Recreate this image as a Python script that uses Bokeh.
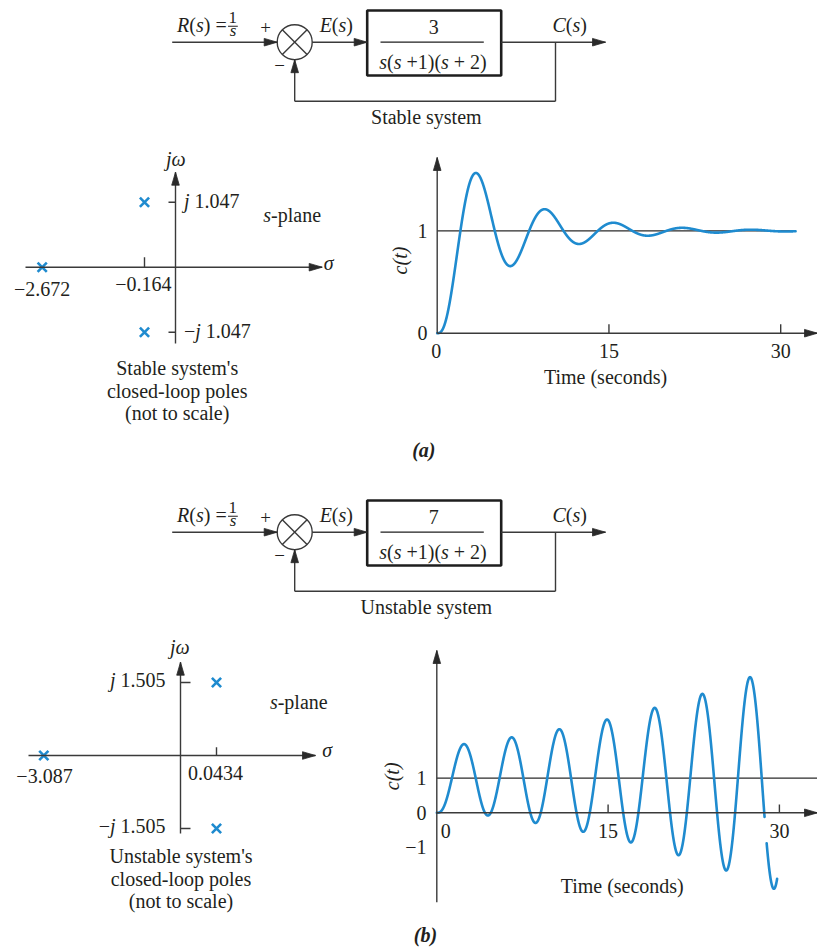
import numpy as np
from bokeh.plotting import figure
from bokeh.models import Range1d
from bokeh.core.properties import value
from bokeh.embed import file_html
from bokeh.resources import INLINE

# ------------------------------------------------------------------ data
GAINS = [3, 7]                       # forward-path gain K of panel (a) and (b)
OPEN_LOOP_DEN = [1, 3, 2, 0]         # s(s+1)(s+2) = s^3 + 3s^2 + 2s
DEN_TEXT = [("s", "i"), ("(", "r"), ("s", "i"), (" +1)(", "r"), ("s", "i"), (" + 2)", "r")]
POLES_A_RE = [-2.672, -0.164, -0.164]
POLES_A_IM = [0.0, 1.047, -1.047]
POLES_B_RE = [-3.087, 0.0434, 0.0434]
POLES_B_IM = [0.0, 1.505, -1.505]
T_END = [31.3, 29.8]                 # length of the plotted responses (s)
X_TICKS = [0, 15, 30]
Y_TICKS_A = [0, 1]
Y_TICKS_B = [-1, 0, 1]
SYSTEM_CAPTIONS = ["Stable system", "Unstable system"]
POLE_CAPTIONS = [["Stable system's", "closed-loop poles", "(not to scale)"],
                 ["Unstable system's", "closed-loop poles", "(not to scale)"]]
PANEL_LABELS = ["(a)", "(b)"]

# ------------------------------------------------------------------ styles
TXT = "#231f20"
LN = "#3a3a3a"
BLUE = "#1f8bcf"
FONT = value("Liberation Serif")
FS = 20
W, H = 817, 950
MID = 0.335          # em-middle above the alphabetic baseline

MET = {
    "r": {" ": 250, "(": 333, ")": 333, "+": 564, "=": 564, "\u2212": 564, "-": 333, ".": 250,
          "'": 180, "a": 444, "b": 500, "c": 444, "d": 500, "e": 444, "f": 333, "g": 500,
          "h": 500, "i": 278, "j": 278, "k": 500, "l": 278, "m": 778, "n": 500, "o": 500,
          "p": 500, "r": 333, "s": 389, "t": 278, "u": 500, "v": 500, "w": 722, "y": 500,
          "S": 556, "T": 611, "U": 722},
    "i": {"R": 611, "E": 611, "C": 667, "s": 389, "j": 278, "t": 278, "c": 444,
          "\u03c9": 667, "\u03c3": 500, "(": 333, ")": 333, " ": 250},
    "bi": {"(": 333, ")": 333, "a": 500, "b": 500},
}
STY = {"r": "normal", "i": "italic", "bi": "bold italic"}


def tw(s, st, size):
    return sum(MET[st].get(ch, 500) for ch in s) * size / 1000.0


p = figure(width=W, height=H, x_range=Range1d(0, W), y_range=Range1d(H, 0),
           output_backend="svg", toolbar_location=None, x_axis_type=None, y_axis_type=None,
           min_border=0, outline_line_color=None, title=None,
           background_fill_color="white", border_fill_color="white")


def rich(parts, x, y, align="left", size=FS):
    """parts drawn side by side; y is the alphabetic baseline"""
    total = sum(tw(t, st, size) for t, st in parts)
    cx = {"left": x, "center": x - total / 2.0, "right": x - total}[align]
    for t, st in parts:
        body = t.strip()
        if body:
            lead = t[:len(t) - len(t.lstrip())]
            p.text(x=[cx + tw(lead, st, size)], y=[y - MID * size], text=[body], text_font=FONT,
                   text_font_size=f"{size}px", text_font_style=STY[st], text_align="left",
                   text_baseline="middle", text_color=TXT)
        cx += tw(t, st, size)


def plain(txt, x, y, align="center", size=FS, style="normal", **kw):
    """y is the alphabetic baseline"""
    p.text(x=[x], y=[y - MID * size], text=[txt], text_font=FONT, text_font_size=f"{size}px",
           text_font_style=style, text_align=align, text_baseline="middle",
           text_color=TXT, **kw)


SEG = {"x0": [], "y0": [], "x1": [], "y1": []}
HEADS = {"xs": [], "ys": []}


def seg(x0, y0, x1, y1):
    SEG["x0"].append(x0); SEG["y0"].append(y0); SEG["x1"].append(x1); SEG["y1"].append(y1)


def head(tx, ty, dx, dy, L=13.0, Wd=3.8):
    bx, by = tx - dx * L, ty - dy * L
    px, py = -dy, dx
    HEADS["xs"].append([tx, bx + px * Wd, bx - px * Wd])
    HEADS["ys"].append([ty, by + py * Wd, by - py * Wd])


def fmt_num(v):
    s = str(abs(v))
    return ("\u2212" + s) if v < 0 else s


def step_response(K, den, t_end, dt=0.005):
    a = np.array(den, dtype=float)
    a[-1] += K                                   # closed loop: den + K

    def f(x):
        return np.array([x[1], x[2], (K - a[3] * x[0] - a[2] * x[1] - a[1] * x[2]) / a[0]])

    n = int(round(t_end / dt))
    t = np.arange(n + 1) * dt
    x = np.zeros(3)
    c = np.zeros(n + 1)
    for i in range(n):
        k1 = f(x); k2 = f(x + dt / 2 * k1); k3 = f(x + dt / 2 * k2); k4 = f(x + dt * k3)
        x = x + dt / 6 * (k1 + 2 * k2 + 2 * k3 + k4)
        c[i + 1] = x[0]
    return t, c


# ------------------------------------------------------------------ block diagrams
def block_diagram(dy, gain, caption):
    yl = 41.7 + dy
    cx, r = 294.2, 17.5
    bx0, bx1, by0, by1 = 366.7, 500.7, 10 + dy, 75 + dy
    tap, fb_y, out_x = 555.0, 100.7 + dy, 605.0
    seg(171.7, yl, cx - r, yl)
    seg(cx + r, yl, bx0, yl)
    seg(bx1, yl, out_x, yl)
    seg(tap, yl, tap, fb_y)
    seg(tap, fb_y, cx, fb_y)
    seg(cx, fb_y, cx, yl + r)
    head(cx - r, yl, 1, 0)
    head(bx0, yl, 1, 0)
    head(out_x, yl, 1, 0)
    head(cx, yl + r, 0, -1)
    d = r * np.cos(np.pi / 4)
    seg(cx - d, yl - d, cx + d, yl + d)
    seg(cx - d, yl + d, cx + d, yl - d)
    p.circle(x=[cx], y=[yl], radius=r, fill_color=None, line_color=LN, line_width=1.4)
    p.quad(left=[bx0], right=[bx1], top=[by0], bottom=[by1], fill_color=None,
           line_color="#1e1e1e", line_width=2.6)
    # fraction inside block
    p.segment(x0=[380], y0=[yl], x1=[483.3], y1=[yl], line_color="#1e1e1e", line_width=1.3)
    plain(str(gain), 433.3, 33.3 + dy)
    rich(DEN_TEXT, 432.5, 68.3 + dy, align="center")
    # labels
    rich([("R", "i"), ("(", "r"), ("s", "i"), (") =", "r")], 226.2, 31 + dy, align="right")
    plain("1", 232.3, 22.7 + dy, size=17)
    p.segment(x0=[227.5], y0=[25.7 + dy], x1=[237.3], y1=[25.7 + dy], line_color=TXT, line_width=1.1)
    plain("s", 232.5, 36 + dy, size=17, style="italic")
    plain("+", 265, 33.5 + dy, size=19)
    plain("\u2212", 279, 71.7 + dy, size=19)
    rich([("E", "i"), ("(", "r"), ("s", "i"), (")", "r")], 335.8, 31 + dy, align="center")
    rich([("C", "i"), ("(", "r"), ("s", "i"), (")", "r")], 569.2, 31 + dy, align="center")
    plain(caption, 425.8, 123.3 + dy)


block_diagram(0, GAINS[0], SYSTEM_CAPTIONS[0])
block_diagram(490, GAINS[1], SYSTEM_CAPTIONS[1])


# ------------------------------------------------------------------ s-planes
def splane(cfg, re_list, im_list, captions):
    x0, y0 = cfg["x0"], cfg["y0"]
    seg(cfg["xl"], y0, cfg["xr"], y0)
    seg(x0, cfg["yb"], x0, cfg["yt"])
    head(cfg["xr"], y0, 1, 0)
    head(x0, cfg["yt"], 0, -1)
    px, py = [], []
    for re, im in zip(re_list, im_list):
        # "not to scale": complex pair close to the jw axis, real pole far left
        px.append(x0 + (np.sign(re) * cfg["near"] if abs(re) < 1 else -cfg["far"]))
        py.append(y0 - im * cfg["ims"])
    for re, im, x, y in zip(re_list, im_list, px, py):
        if im > 0:
            seg(x, y0, x, y0 - cfg["th"])
            lab = cfg["near_lab"]
            plain(fmt_num(re), lab[0], lab[1])
        if im != 0:
            seg(x0 + cfg["jt"][0], y, x0 + cfg["jt"][1], y)
            parts = ([("j", "i"), (" ", "r"), (str(abs(im)), "r")] if im > 0 else
                     [("\u2212", "r"), ("j", "i"), (" ", "r"), (str(abs(im)), "r")])
            a, dx = cfg["jlab"]
            rich(parts, x0 + dx, y + cfg["jlab_dy"], align=a)
        if im == 0:
            lab = cfg["far_lab"]
            plain(fmt_num(re), lab[0], lab[1])
    p.scatter(x=px, y=py, marker="x", size=13, line_color=BLUE, line_width=2.6)
    rich([("j", "i"), ("\u03c9", "i")], cfg["jw"][0], cfg["jw"][1], align="center")
    plain("\u03c3", cfg["sig"][0], cfg["sig"][1], align="left", style="italic")
    rich([("s", "i"), ("-plane", "r")], cfg["sp"][0], cfg["sp"][1], align="center")
    for txt, yy in zip(captions, cfg["cap_y"]):
        plain(txt, cfg["cap_x"], yy)


splane(dict(x0=175, y0=266.7, xl=25, xr=321.7, yt=171.7, yb=343, near=31, far=133.3,
            ims=65 / 1.047, th=10, jt=(-7, 0), jlab=("left", 8.5), jlab_dy=5,
            near_lab=(142.8, 290), far_lab=(41.7, 295), jw=(175, 165), sig=(323.3, 269.3),
            sp=(291.7, 221), cap_x=176.7, cap_y=[374.5, 397, 419.5]),
       POLES_A_RE, POLES_A_IM, POLE_CAPTIONS[0])

splane(dict(x0=180, y0=755, xl=28, xr=315, yt=661.7, yb=833, near=36, far=136.7,
            ims=73 / 1.505, th=8.3, jt=(0, 10), jlab=("right", -15), jlab_dy=4.2,
            near_lab=(215, 779), far_lab=(44, 781.7), jw=(179, 653.3), sig=(321.7, 756),
            sp=(298.3, 708.3), cap_x=180.5, cap_y=[862, 885, 907.5]),
       POLES_B_RE, POLES_B_IM, POLE_CAPTIONS[1])


# ------------------------------------------------------------------ time responses
def time_plot(name, cfg, K, t_end, y_ticks):
    X0, SX, Y0, SY = cfg["X0"], cfg["SX"], cfg["Y0"], cfg["SY"]
    xr, yr = "t" + name, "c" + name
    p.extra_x_ranges[xr] = Range1d((0 - X0) / SX, (W - X0) / SX)
    p.extra_y_ranges[yr] = Range1d((Y0 - H) / SY, (Y0 - 0) / SY)
    # axes with arrows
    seg(X0, cfg["yb"], X0, cfg["yt"])
    seg(X0, Y0, 817, Y0)
    head(X0, cfg["yt"], 0, -1)
    head(817, Y0, 1, 0)
    ticks = [t for t in X_TICKS if t > 0]
    p.segment(x0=ticks, y0=[Y0] * len(ticks), x1=ticks, y1=[Y0 - cfg["th"]] * len(ticks),
              x_range_name=xr, line_color=LN, line_width=1.4)
    # reference line c = 1
    p.line(x=[0, cfg["ref_end"]], y=[1, 1], x_range_name=xr, y_range_name=yr,
           line_color="#2a2a2a", line_width=1.3)
    # response
    t, c = step_response(K, OPEN_LOOP_DEN, t_end)
    c = c.copy()
    if cfg.get("gap") is not None:
        g0, g1, tmin = cfg["gap"]
        c[(t > tmin) & (c < g0) & (c > g1)] = np.nan
    p.line(x=t, y=c, x_range_name=xr, y_range_name=yr, line_color=BLUE, line_width=2.6,
           line_join="round", line_cap="round")
    # labels
    p.text(x=[cfg["ylab_x"]] * len(y_ticks), y=y_ticks,
           text=[fmt_num(v) for v in y_ticks], y_range_name=yr, text_font=FONT,
           text_font_size=f"{FS}px", text_align="right", text_baseline="middle",
           text_color=TXT)
    p.text(x=X_TICKS, y=[cfg["xlab_y"] - MID * FS] * len(X_TICKS), text=[str(v) for v in X_TICKS],
           x_offset=[cfg["zero_dx"] if v == 0 else 0 for v in X_TICKS],
           x_range_name=xr, text_font=FONT, text_font_size=f"{FS}px", text_align="center",
           text_baseline="middle", text_color=TXT)
    plain("Time (seconds)", cfg["title"][0], cfg["title"][1])
    p.text(x=[cfg["cl"][0]], y=[cfg["cl"][1]], text=["c(t)"], text_font=FONT,
           text_font_size=f"{FS}px", text_font_style="italic", text_align="center",
           text_baseline="middle", text_color=TXT, angle=np.pi / 2)


time_plot("a", dict(X0=436.7, SX=11.45, Y0=332.7, SY=102.4, yt=157, yb=332.7, th=9,
                    ref_end=31.3, ylab_x=427, xlab_y=356.7, zero_dx=-1,
                    title=(605, 382.7), cl=(399.7, 260), gap=None),
          GAINS[0], T_END[0], Y_TICKS_A)

time_plot("b", dict(X0=436.3, SX=11.42, Y0=812.3, SY=34.6, yt=650, yb=901.7, th=8.3,
                    ref_end=34, ylab_x=426, xlab_y=836.7, zero_dx=9,
                    title=(621.7, 891.7), cl=(391.3, 775.8), gap=(-0.12, -0.88, 27.5)),
          GAINS[1], T_END[1], Y_TICKS_B)

# ------------------------------------------------------------------ shared strokes
p.segment(x0=SEG["x0"], y0=SEG["y0"], x1=SEG["x1"], y1=SEG["y1"],
          line_color=LN, line_width=1.4)
p.patches(xs=HEADS["xs"], ys=HEADS["ys"], fill_color="#2a2a2a", line_color="#2a2a2a",
          line_width=0.8)

rich([(PANEL_LABELS[0], "bi")], 423.3, 456, align="center")
rich([(PANEL_LABELS[1], "bi")], 425, 941, align="center")

open("out.html", "w").write(file_html(p, INLINE))
